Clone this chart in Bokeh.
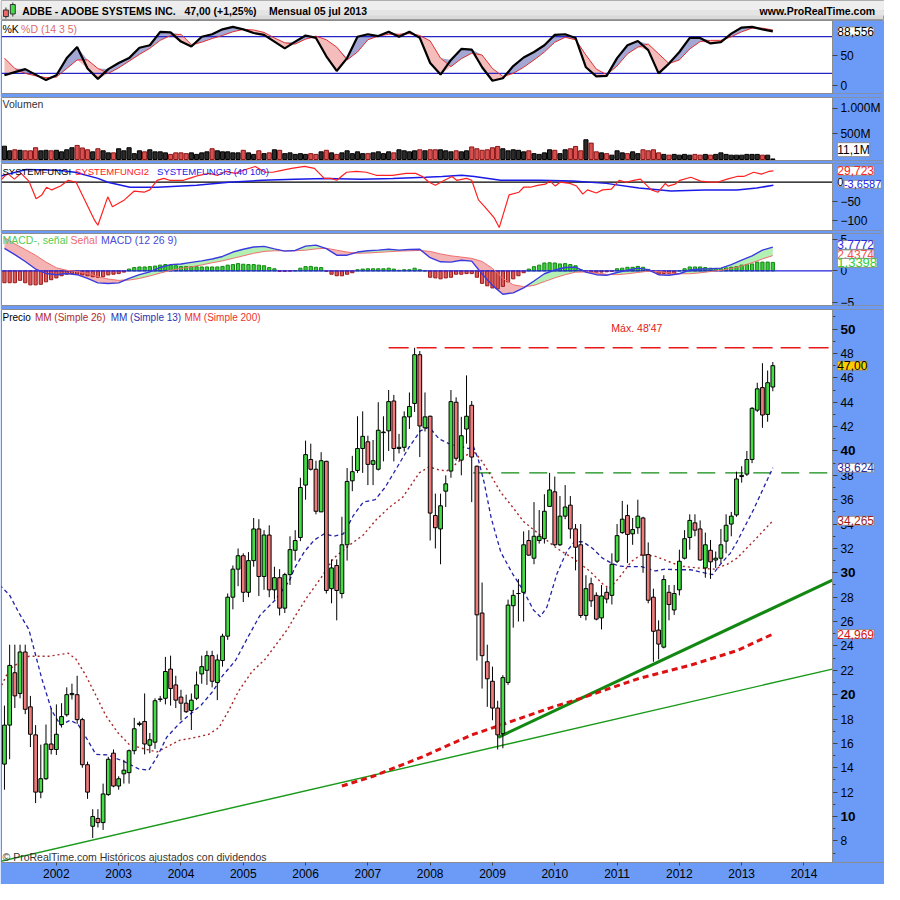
import numpy as np
from bokeh.plotting import figure
from bokeh.layouts import column
from bokeh.models import Range1d, FixedTicker, Label, ColumnDataSource, LinearAxis
from bokeh.embed import file_html
from bokeh.resources import INLINE

FONT = "Liberation Sans"
BLUE = "#6b9bf7"
W = 884

# ---------------- data (monthly ADBE, Mar 2001 .. Jul 2013) ----------------
opens = [14.3,17.5,21.8,20.1,23.5,19.0,16.7,12.0,13.1,15.95,15.5,17.55,18.35,20.0,20.0,17.95,14.25,9.2,9.84,9.5,
         11.8,15.2,12.5,13.5,13.6,15.4,17.55,17.8,15.85,16.1,19.6,19.7,22.1,20.8,19.8,19.3,18.7,19.7,21.7,22.0,
         23.2,21.0,22.8,24.8,28.0,30.3,31.4,28.4,31.0,33.6,29.7,33.1,28.6,29.6,27.1,29.85,31.85,32.9,37.2,39.3,
         38.5,35.0,39.15,28.7,30.6,28.3,32.3,37.55,38.4,40.2,40.75,38.9,38.5,41.5,41.65,44.1,40.2,40.3,42.8,43.9,
         47.9,41.9,42.85,34.7,33.6,36.7,38.35,44.0,39.25,41.8,43.75,38.75,26.7,22.7,21.1,18.9,16.8,21.0,27.3,28.3,
         28.4,32.65,31.2,32.65,32.8,35.45,36.65,32.3,34.65,35.55,33.6,32.3,26.5,29.1,28.15,26.3,28.4,28.15,30.95,33.3,
         34.7,33.2,33.7,34.5,31.5,28.0,25.3,23.9,28.4,26.95,28.6,31.2,32.9,34.1,33.6,30.4,31.85,31.05,31.2,32.6,
         34.0,34.75,37.9,38.1,39.3,43.35,45.2,43.0,45.25]
highs = [19.1,24.1,24.1,24.1,24.1,19.9,17.5,15.9,17.55,18.9,19.2,19.3,20.6,20.9,21.55,18.1,14.5,10.6,10.6,12.7,
         14.9,15.5,13.3,14.65,15.5,18.1,17.8,20.1,16.85,19.7,19.9,23.1,23.2,21.55,20.4,20.0,20.1,21.9,23.2,23.6,
         23.6,23.3,25.0,28.3,30.6,32.0,31.6,31.7,34.5,34.4,33.5,33.9,30.5,30.3,30.0,33.0,33.5,37.8,40.85,40.6,
         39.2,39.9,39.2,31.1,31.1,34.6,38.6,39.6,42.85,43.25,41.25,40.9,44.0,42.85,45.0,44.6,41.4,43.25,44.8,48.47,
         48.2,44.8,42.9,36.5,36.5,38.0,45.0,44.4,42.8,46.2,44.1,38.8,29.2,24.1,22.3,19.5,21.6,27.8,28.6,29.5,
         33.4,33.5,35.8,35.15,36.45,38.2,37.9,36.3,37.2,36.3,34.0,34.0,29.8,29.6,28.4,29.0,28.8,31.6,34.0,35.9,
         35.6,34.5,36.0,34.6,32.5,28.7,26.1,29.8,29.0,29.0,31.9,33.5,34.8,34.8,34.3,33.3,32.7,31.75,33.6,34.8,
         35.0,38.3,38.75,40.0,43.6,45.6,47.2,46.6,47.3]
lows = [12.2,14.7,18.9,19.7,18.4,15.7,11.1,11.5,13.0,15.1,15.05,17.3,18.2,19.6,17.6,14.0,11.45,8.23,9.1,8.9,
        11.7,12.4,12.2,12.7,12.7,15.1,17.4,15.1,15.2,15.55,19.4,19.2,19.1,18.9,17.9,18.5,17.1,19.55,20.9,20.8,
        20.6,19.55,22.3,24.5,27.0,28.9,27.6,28.0,30.5,28.1,28.6,28.0,27.8,26.5,26.7,29.0,31.0,32.6,36.0,38.4,
        34.8,35.0,28.3,27.5,26.1,27.9,31.0,36.7,38.2,38.2,37.2,37.2,38.4,39.15,40.0,39.15,39.8,39.95,41.8,43.2,
        39.5,41.6,32.65,32.0,30.7,35.4,37.8,39.2,38.0,40.6,35.8,22.8,20.5,19.0,17.9,15.5,15.6,20.8,25.5,26.0,
        26.0,31.4,30.7,32.4,32.4,35.4,32.2,32.2,34.4,32.8,30.2,26.3,26.1,27.2,26.1,25.35,27.5,27.4,30.8,33.2,
        30.8,32.3,33.2,30.0,27.5,22.7,22.9,23.8,26.1,26.55,28.15,31.1,31.9,33.0,31.0,29.6,29.5,30.4,30.8,31.6,
        33.0,34.6,37.4,37.95,39.0,43.2,41.9,42.4,44.9]
closes = [17.5,22.4,19.9,23.5,18.8,16.75,12.0,13.1,15.95,15.5,16.75,18.2,20.0,20.1,17.95,14.25,12.0,10.0,9.5,11.85,
          14.7,12.5,13.1,13.8,15.4,17.2,17.65,15.95,16.3,19.5,19.65,21.9,20.5,19.55,19.3,18.6,19.55,20.8,22.3,23.2,
          21.1,22.85,24.8,28.0,30.3,31.4,28.4,31.0,33.6,29.7,33.1,28.6,29.6,27.1,29.85,31.9,32.65,37.0,39.7,38.5,
          35.05,39.2,28.55,30.4,28.55,32.3,37.5,38.3,40.2,41.2,38.9,39.2,41.7,41.55,44.05,40.2,40.3,42.8,43.65,47.9,
          42.05,42.8,34.9,33.7,35.5,37.3,44.05,39.4,41.25,42.85,39.5,26.55,23.2,21.3,18.9,16.7,21.4,27.35,28.15,28.3,
          32.3,31.45,33.0,33.0,35.05,36.8,32.3,34.65,35.4,33.6,32.1,26.5,28.7,27.7,26.2,28.1,27.85,30.7,33.05,34.4,
          33.15,33.55,34.65,31.45,27.75,25.2,24.15,29.45,27.4,28.3,30.95,32.8,34.3,33.5,31.05,32.3,30.9,31.2,32.3,33.9,
          34.65,37.7,38.0,39.3,43.5,45.1,42.95,45.6,47.0]
volume_m = [260,170,190,180,170,170,230,170,180,170,180,150,190,230,275,225,190,150,210,170,
            130,130,210,170,230,115,170,150,190,150,150,130,100,130,130,115,130,100,130,150,
            210,170,150,150,130,130,180,130,100,170,115,130,190,180,115,130,100,115,100,115,
            100,150,180,130,100,130,170,115,150,115,115,130,150,115,150,130,190,170,150,170,
            190,170,190,190,190,170,150,170,150,170,245,210,180,190,230,255,210,170,190,180,
            150,170,115,100,130,190,180,115,190,210,255,170,385,320,150,130,115,85,170,130,
            115,150,115,190,170,190,130,100,85,100,85,100,85,100,85,100,85,100,130,100,
            85,85,85,100,100,100,85,85,11.1]

# moving averages: (month index, value)
sma13_x = [-0.95,0.95,2.8,4.7,7.2,9.1,10.8,12.7,14.2,15.7,17.6,19.9,23.1,25.9,27.8,29.4,31.25,33.5,35.6,37.9,
           40.2,42,44.5,47,49.2,52.1,54.9,55.9,57.8,59.7,61.6,63.4,65.3,67.2,69.1,71.4,73.3,76.1,78,80.1,
           81.8,83.7,85.6,87.5,89.4,90.3,91.3,92.4,93.75,95.6,97.9,100,101.9,103.2,104.5,106.4,108.3,109.8,111.4,113.3,
           115.2,116.9,118.4,120.8,122.7,125.4,127.3,129.7,132.2,134.8,136.4,137.9,139.8,141.1,144.3,148]
sma13_y = [29.0,28.2,26.7,25.35,21.3,18.7,17.5,17.9,17.55,16.5,15.1,15.05,14.5,13.9,13.8,14.9,16.5,17.55,18.35,19.15,
           20.3,21.55,22.8,24.8,26.5,27.75,29.35,30.4,31.75,32.7,33.2,33.0,33.2,34.7,35.8,36.0,37.0,39.0,40.35,41.65,
           41.95,41.0,40.6,40.4,40.2,40.4,39.25,37.4,34.5,31.7,29.9,28.5,26.95,26.4,27.2,29.9,31.75,32.55,32.55,32.0,
           31.2,30.8,30.55,30.5,30.5,30.15,30.3,30.25,30.25,30.0,29.85,30.7,31.6,32.55,35.2,38.62]
sma26_x = [-0.95,0.95,4.7,8.5,12.3,13.8,15.7,17.6,19.5,21.8,24.05,26.9,29.4,31.25,33.7,36.9,39.4,41.3,43.2,45.1,
           47.7,50.2,52.65,54.5,55.9,58.3,61,63.4,66.7,69.1,71.6,74.2,76.7,78,79.9,81.8,83.7,85.2,86.7,88.6,
           90.3,91.9,93.75,95.6,97.5,100,103.2,106.4,109.5,112.7,115.2,116.5,118.4,120.8,122.7,125.4,127.8,130.3,133.5,136.7,
           139.2,141.1,144.3,148]
sma26_y = [20.4,22.1,23.15,23.15,23.4,22.9,21.55,19.95,18.3,16.9,15.9,15.55,15.3,15.7,16.25,16.5,16.75,17.3,18.7,20.3,
           21.9,22.9,24.3,25.35,26.4,28.0,29.6,31.2,32.35,33.1,34.35,35.4,36.2,37.0,38.2,38.7,38.45,38.35,38.85,39.55,
           40.0,39.2,37.95,36.6,35.6,34.2,33.1,32.0,31.2,30.15,29.1,28.7,29.6,30.95,31.5,31.35,30.95,30.55,30.4,30.3,
           30.7,31.2,32.6,34.27]
sma200_x = [65,71,80.5,90,95.6,105,111,122,132,141,148]
sma200_y = [12.5,13.3,14.9,16.7,17.5,18.9,19.7,21.3,22.4,23.6,24.97]

# drawn trend lines and levels
trend_thick_x = [95.1, 159.47]
trend_thick_y = [16.5, 29.4]
trend_thin_x = [-0.95, 159.47]
trend_thin_y = [6.3, 22.1]
max_level = 48.47
max_level_start = 74
support_level = 38.2
support_start = 90.3

# stochastic (14 3 5), every second month
osc_x = list(range(0, 149, 2))
stoch_k = [17,22,27,18,9,17,45,63,28,11,27,37,45,62,66,88,87,72,64,80,84,92,96,92,86,83,72,61,72,82,
           78,48,24,45,80,84,81,88,80,88,78,37,18,42,60,59,30,8,12,32,46,55,66,83,84,78,30,15,16,45,
           66,73,58,20,36,55,78,78,69,71,85,95,96,92,88.6]
stoch_d = [45,28,20,16,13,14,28,42,42,28,20,29,40,51,61,74,82,84,67,71,77,82,88,92,91,87,78,70,68,76,
           81,75,63,42,55,75,81,84,84,85,82,73,45,31,44,53,50,28,15,20,30,42,55,71,79,75,50,27,18,32,
           52,63,68,52,36,42,60,72,74,74,80,88,94,94,91]
stoch_levels = [20, 80]

# SYSTEMFUNGI 2 / 3
fungi2_x = [-0.95,0.6,1.9,3.2,4.7,6.1,7.2,8.1,9.1,10.8,12.3,13.8,17.4,18,19.9,20.8,23.1,25,26.9,28,
            29.4,30.7,31.8,34.5,35.6,37.5,39.4,41.1,42.6,44.5,46,48.3,50.2,51.7,53.4,55.3,57.8,59.7,61.6,62.9,
            64,65.9,67.8,69.7,71.6,74.8,77.3,79.2,80.5,81.8,83,84.3,86.2,87.1,89,90,91.3,92.4,94.3,95.3,
            97.2,99.1,100,101.3,102.7,104.2,105.1,106.1,107,108.9,110.2,111.4,112.3,114,115.2,116.9,118.4,119.7,121.2,122.5,
            124.6,125.9,127.3,127.8,129.2,130.1,132.2,134.1,136,137.3,139.2,141.1,142.4,144.3,145.8,147.2,148.1]
fungi2_y = [2,23,8,23,3,-43,-33,-13,-20,-10,5,0,-100,-112,-38,-64,-46,-23,-26,-20,
            5,10,5,5,10,18,23,18,28,23,31,41,26,26,31,36,41,36,10,10,
            5,26,28,26,18,18,23,23,15,0,-8,2,15,5,10,5,-46,-62,-92,-118,
            -33,-26,-13,-13,-8,-5,3,-10,0,-3,-10,-31,-20,-28,-20,-18,5,0,5,8,
            -20,-26,-3,-10,-5,5,13,3,0,0,8,15,15,26,21,28,29.7]
fungi3_x = [-0.95,4.2,10.4,13.6,18,19.9,24.2,29.4,37,43.2,49.6,55.9,62.1,68.6,74.8,81.1,84.3,88.1,90.5,95.6,
            103.2,109.5,115.9,122.2,128.4,134.8,141.1,144.9,148.1]
fungi3_y = [15,33,31,26,10,0,-13,-13,-8,0,5,8,10,8,10,13,15,18,15,5,
            5,3,-3,-15,-23,-20,-20,-15,-8]
fungi_zero = 0

# MACD (12 26 9)
macd_line = [3.6,2.6,1.5,0.3,-0.4,-0.6,-0.4,-0.6,-1.2,-1.9,-2.0,-1.9,-1.2,-0.6,-0.15,0.55,1.0,1.1,1.35,1.6,
             1.9,2.3,3.0,3.45,3.8,3.9,3.5,3.15,3.25,3.95,4.1,3.55,2.5,2.5,3.0,3.2,3.3,3.45,3.3,3.4,
             3.45,2.1,1.45,1.4,1.7,1.55,-0.5,-2.3,-3.7,-3.5,-2.7,-1.6,-0.45,0.15,0.55,0.6,-0.2,-0.6,-0.7,-0.25,
             0.1,0.45,0.2,-0.6,-0.7,-0.45,0.15,0.3,0.35,0.45,1.0,1.7,2.4,3.3,3.78]
macd_signal = [5.3,4.3,3.4,2.5,1.4,0.5,0.1,-0.1,-0.4,-0.9,-1.3,-1.5,-1.45,-1.2,-0.8,-0.35,0.1,0.4,0.65,0.95,
               1.3,1.6,2.0,2.4,2.8,3.1,3.2,3.2,3.2,3.3,3.5,3.6,3.3,3.0,2.8,2.85,2.95,3.05,3.15,3.2,
               3.25,3.1,2.7,2.4,2.2,2.0,1.5,0.4,-1.2,-2.2,-2.5,-2.3,-1.7,-1.1,-0.6,-0.2,-0.15,-0.3,-0.55,-0.6,
               -0.45,-0.25,-0.05,-0.1,-0.3,-0.45,-0.45,-0.3,-0.1,0.1,0.4,0.8,1.3,1.9,2.44]
macd_hist = [-1.88,-1.88,-1.88,-1.50,-1.88,-2.22,-2.22,-2.13,-1.74,-1.40,-1.11,-0.77,-0.53,-0.43,-0.53,-0.63,-0.77,-0.92,-1.01,-0.92,
             -0.63,-0.53,-0.43,-0.19,0.29,0.53,0.63,0.63,0.68,0.77,0.92,1.01,0.92,0.82,0.68,0.68,0.68,0.68,0.63,0.63,
             0.63,0.63,0.72,0.92,1.01,1.16,1.06,1.01,1.01,0.92,0.82,0.53,0.34,-0.05,-0.05,-0.02,0.05,0.43,0.68,0.72,
             0.58,0.53,-0.05,-0.53,-0.77,-0.77,-0.53,-0.29,0.19,0.29,0.34,0.34,0.34,0.34,0.43,0.29,0.1,0.19,0.19,0.43,
             0.19,0.0,-1.01,-1.11,-1.26,-1.11,-1.01,-0.53,-0.53,-0.43,-0.43,-1.01,-1.98,-2.37,-2.71,-2.85,-2.46,-1.74,-1.26,-0.77,
             -0.29,0.29,0.68,0.92,1.26,1.30,1.26,1.11,1.16,1.01,0.82,0.19,-0.05,-0.14,-0.29,-0.19,-0.14,-0.05,0.34,0.43,
             0.58,0.58,0.72,0.58,0.24,-0.05,-0.53,-0.39,-0.39,-0.34,0.0,0.34,0.63,0.63,0.63,0.53,0.43,0.34,0.34,0.48,
             0.58,0.68,0.92,1.01,1.11,1.40,1.40,1.40,1.35]
macd_zero = 0

year_ticks = [10, 22, 34, 46, 58, 70, 82, 94, 106, 118, 130, 142, 154]
year_labels = ["2002","2003","2004","2005","2006","2007","2008","2009","2010","2011","2012","2013","2014"]

# ---------------- layout helpers ----------------
n = len(closes)
idx = np.arange(n)
X0, STRIP_X, XMAX = -0.57, 159.47, 169.51      # plot left, start of the right scale strip, right edge
xr = Range1d(X0, XMAX)


def style_axis(ax, size="12px", bold=False):
    ax.axis_line_color = "#8c8c8c"
    ax.major_tick_line_color = "#444444"
    ax.major_tick_out = 5
    ax.major_tick_in = 0
    ax.minor_tick_line_color = None
    ax.major_label_standoff = 3
    ax.major_label_text_font = FONT
    ax.major_label_text_font_size = size
    ax.major_label_text_font_style = "bold" if bold else "normal"
    ax.major_label_text_color = "black"


def panel(h, yr, bottom, ticks, x_axis=None, overrides=None):
    p = figure(width=W, height=h, x_range=xr, y_range=Range1d(*yr), output_backend="svg",
               toolbar_location=None, x_axis_location=x_axis, y_axis_location=None,
               min_border_left=1, min_border_right=0, min_border_top=0, min_border_bottom=bottom)
    p.border_fill_color = BLUE
    p.background_fill_color = "white"
    p.outline_line_color = "#8c8c8c"
    p.grid.visible = False
    p.quad(left=[STRIP_X], right=[XMAX + 1], bottom=[yr[0]], top=[yr[1]], fill_color=BLUE, line_color=None)
    ax = LinearAxis(fixed_location=STRIP_X, ticker=FixedTicker(ticks=ticks))
    style_axis(ax)
    if overrides:
        ax.major_label_overrides = overrides
    p.add_layout(ax, "right")
    return p, ax


def lab(p, x, y, text, color, size="10.5px", bold=False):
    p.add_layout(Label(x=x, y=y, text=text, text_color=color, text_font=FONT, text_font_size=size,
                       text_baseline="middle", text_font_style="bold" if bold else "normal"))


def vbox(p, y, text, color, bg="white", x=160.42, size="12px"):
    p.add_layout(Label(x=x, y=y, text=text, text_color=color, text_font=FONT, text_font_size=size,
                       text_baseline="middle", background_fill_color=bg,
                       border_line_color="#8c8c8c", border_line_width=1))


# ---------------- header ----------------
hdr = figure(width=W, height=20, x_range=Range1d(2, 900), y_range=Range1d(20, 0), output_backend="svg",
             toolbar_location=None, x_axis_location=None, y_axis_location=None,
             min_border_left=1, min_border_right=0, min_border_top=0, min_border_bottom=0)
hdr.grid.visible = False
hdr.outline_line_color = "#9a9a9a"
hdr.background_fill_color = "#dadada"
hdr.border_fill_color = "#9a9a9a"
hdr.quad(left=[0], right=[900], top=[0], bottom=[10], fill_color="#eeeeee", line_color=None)
hdr.quad(left=[0], right=[900], top=[10], bottom=[15], fill_color="#e4e4e4", line_color=None)
hdr.segment(x0=[6.5, 13.5], y0=[7, 2], x1=[6.5, 13.5], y1=[18, 16], line_color="#333333")
hdr.quad(left=[4, 11], right=[9, 16], top=[9.5, 4], bottom=[16, 13.5],
         fill_color=["#e86a6a", "#44dd44"], line_color="#333333")
lab(hdr, 23, 10.5, "ADBE - ADOBE SYSTEMS INC.", "black", "10.5px", True)
lab(hdr, 188, 10.5, "47,00 (+1,25%)", "black", "10.5px", True)
lab(hdr, 274, 10.5, "Mensual  05 jul 2013", "black", "10.5px", True)
lab(hdr, 773, 10.5, "www.ProRealTime.com", "black", "10.5px", True)

# ---------------- stochastic ----------------
ps, _ = panel(77, (-12.9, 106.5), 4, [0, 50])
K = np.array(stoch_k, dtype=float)
D = np.array(stoch_d, dtype=float)
ps.varea(x=osc_x, y1=D, y2=np.maximum(K, D), fill_color="#a3a7d3")
ps.varea(x=osc_x, y1=np.minimum(K, D), y2=D, fill_color="#f5bcbc")
ps.segment(x0=[X0] * 2, y0=stoch_levels, x1=[STRIP_X] * 2, y1=stoch_levels, line_color="#2424c8", line_width=1.2)
ps.line(osc_x, D, line_color="#e03030", line_width=1)
ps.line(osc_x, K, line_color="black", line_width=2.2)
lab(ps, -0.38, 92, "%K", "black")
lab(ps, 3.2, 92, "%D (14 3 5)", "#e06a6a")
vbox(ps, 88.6, "88,556", "black")

# ---------------- volume ----------------
pv, _ = panel(66, (-19, 1210), 3, [500, 1000], overrides={500: "500M", 1000: "1.000M"})
up = np.array(closes) >= np.array(opens)
vsrc = ColumnDataSource(dict(x=idx, top=volume_m,
                             fill=["#2a2a2a" if u else "#d65050" for u in up],
                             line=["black" if u else "#8a1414" for u in up]))
pv.vbar(x="x", top="top", bottom=0, width=0.8, fill_color="fill", line_color="line", source=vsrc)
lab(pv, -0.38, 1075, "Volumen", "#333333")
vbox(pv, 192, "11,1M", "black")

# ---------------- systemfungi ----------------
pf, _ = panel(70, (-125.6, 48.7), 3, [-100, -50])
pf.segment(x0=[X0], y0=[fungi_zero], x1=[STRIP_X], y1=[fungi_zero], line_color="black", line_width=1.2)
pf.line(fungi3_x, fungi3_y, line_color="#1a1ae6", line_width=1.5)
pf.line(fungi2_x, fungi2_y, line_color="#ff2020", line_width=1.2)
lab(pf, -0.38, 28, "SYSTEMFUNGI", "black", "9.5px")
lab(pf, 13.6, 28, "SYSTEMFUNGI2", "#ff2020", "9.5px")
lab(pf, 29.4, 28, "SYSTEMFUNGI3 (40 100)", "#2020ee", "9.5px")
vbox(pf, 29.7, "29,723", "#ff2020")
vbox(pf, 0, "0", "black", size="11px")
vbox(pf, -5.5, "-3,6587", "#2020ee", x=161.7, size="11px")

# ---------------- MACD ----------------
pm, _ = panel(76, (-5.5, 5.95), 4, [-5, 0, 5])
M = np.array(macd_line)
SG = np.array(macd_signal)
pm.varea(x=osc_x, y1=SG, y2=np.maximum(M, SG), fill_color="#b4f0b4")
pm.varea(x=osc_x, y1=np.minimum(M, SG), y2=SG, fill_color="#f4b4b4")
hist = np.array(macd_hist)
hsrc = ColumnDataSource(dict(x=idx, top=hist,
                             fill=["#3ccc3c" if h >= 0 else "#dd5a5a" for h in hist],
                             line=["#118811" if h >= 0 else "#9a1a1a" for h in hist]))
pm.vbar(x="x", top="top", bottom=0, width=0.62, fill_color="fill", line_color="line", source=hsrc)
pm.segment(x0=[X0], y0=[macd_zero], x1=[STRIP_X], y1=[macd_zero], line_color="#2020dd", line_width=1.2)
pm.line(osc_x, SG, line_color="#f07070", line_width=1)
pm.line(osc_x, M, line_color="#3a3ae0", line_width=1.4)
lab(pm, -0.38, 4.85, "MACD-, señal", "#55cc55")
lab(pm, 12.7, 4.85, "Señal", "#ee6a6a")
lab(pm, 18.6, 4.85, "MACD (12 26 9)", "#4a4ad8")
vbox(pm, 4.14, "3,7772", "#2a2ae0")
vbox(pm, 2.63, "2,4374", "#ee5050")
vbox(pm, 1.28, "1,3398", "#33cc33", size="13px")

# ---------------- price ----------------
bold_ticks = [10, 20, 30, 40, 50]
plain_ticks = [t for t in range(8, 51, 2) if t not in bold_ticks]
pp, pax = panel(575, (6.225, 51.61), 22, plain_ticks, x_axis="below")
pax.ticker = FixedTicker(ticks=plain_ticks, minor_ticks=list(range(7, 52, 2)))
pax.minor_tick_line_color = "#444444"
pax.minor_tick_out = 3
pax.minor_tick_in = 0
bax = LinearAxis(fixed_location=STRIP_X, ticker=FixedTicker(ticks=bold_ticks))
style_axis(bax, "13.5px", True)
pp.add_layout(bax, "right")

xa = pp.xaxis[0]
xa.ticker = FixedTicker(ticks=year_ticks)
xa.major_label_overrides = dict(zip(year_ticks, year_labels))
xa.axis_line_color = "#8c8c8c"
xa.major_tick_line_color = "#444444"
xa.major_tick_out = 3
xa.major_tick_in = 0
xa.minor_tick_line_color = None
xa.major_label_standoff = 3
xa.major_label_text_font = FONT
xa.major_label_text_font_size = "12px"
xa.major_label_text_color = "black"

pp.segment(x0=[max_level_start], y0=[max_level], x1=[STRIP_X], y1=[max_level],
           line_color="#e81818", line_width=1.3, line_dash="20 8")
pp.segment(x0=[support_start], y0=[support_level], x1=[STRIP_X], y1=[support_level],
           line_color="#118a11", line_width=1.3, line_dash="18 10")
pp.line(trend_thin_x, trend_thin_y, line_color="#1a9a1a", line_width=1.4)
pp.line(trend_thick_x, trend_thick_y, line_color="#128812", line_width=3)
pp.line(sma200_x, sma200_y, line_color="#dd1111", line_width=3, line_dash="6 4")
pp.line(sma26_x, sma26_y, line_color="#a82828", line_width=1.4, line_dash="2 3")
pp.line(sma13_x, sma13_y, line_color="#2222a8", line_width=1.3, line_dash="4 3")

o = np.array(opens); c = np.array(closes)
csrc = ColumnDataSource(dict(x=idx, top=np.maximum(o, c), bottom=np.minimum(o, c), high=highs, low=lows,
                             fill=["#44dd44" if u else "#ef7c7c" for u in up]))
pp.segment(x0="x", y0="low", x1="x", y1="high", line_color="black", line_width=1, source=csrc)
pp.vbar(x="x", top="top", bottom="bottom", width=0.72, fill_color="fill", line_color="black",
        line_width=1, source=csrc)

lab(pp, -0.38, 50.96, "Precio", "black", "10px")
lab(pp, 5.87, 50.96, "MM (Simple 26)", "#b02a2a", "10px")
lab(pp, 20.45, 50.96, "MM (Simple 13)", "#3030b0", "10px")
lab(pp, 34.66, 50.96, "MM (Simple 200)", "#ee3030", "10px")
lab(pp, 116.9, 50.08, "Máx. 48'47", "#e02020")
lab(pp, -0.38, 6.71, "© ProRealTime.com  Históricos ajustados con dividendos", "#333333")

vbox(pp, 47.0, "47,00", "black", bg="#ffcc00")
vbox(pp, 38.62, "38,624", "#2a2aa0")
vbox(pp, 34.27, "34,265", "#a01c1c")
vbox(pp, 24.97, "24,969", "#e01010")

layout = column(hdr, ps, pv, pf, pm, pp, spacing=0)
open("out.html", "w").write(file_html(layout, INLINE))
